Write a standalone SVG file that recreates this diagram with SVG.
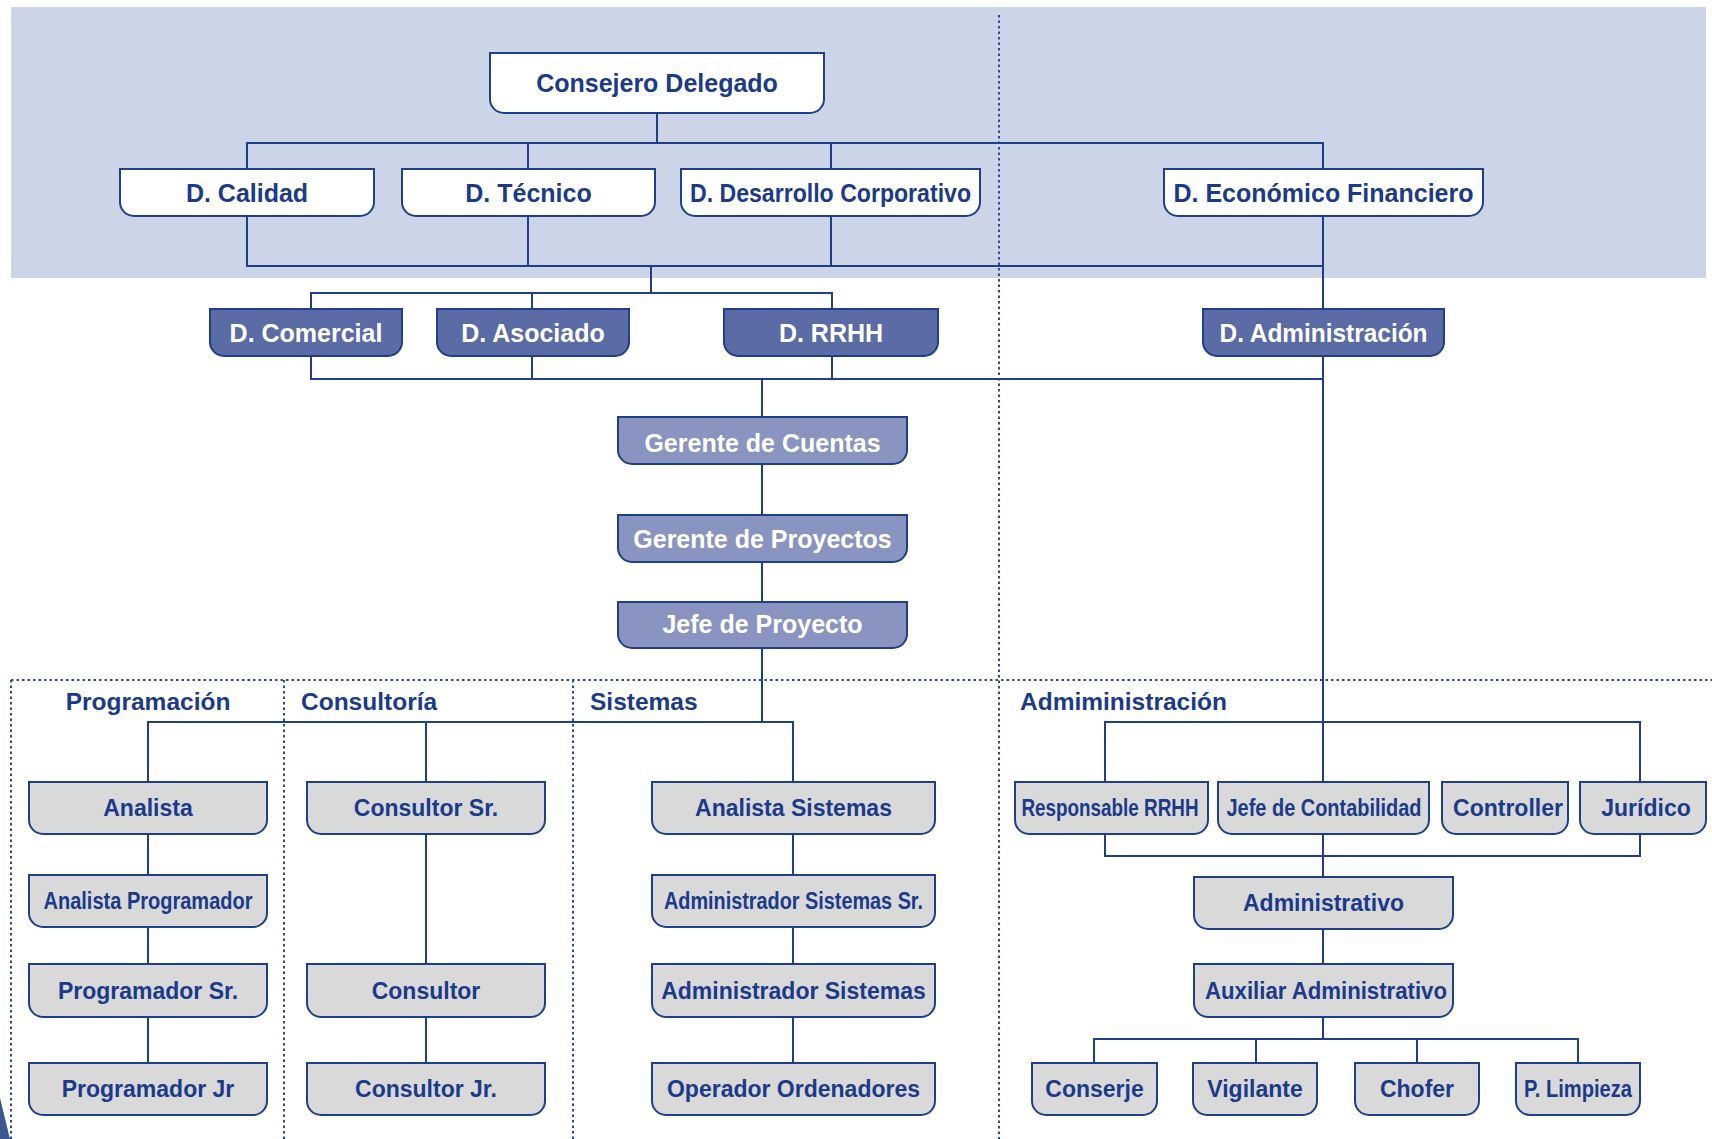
<svg xmlns="http://www.w3.org/2000/svg" width="1712" height="1139" viewBox="0 0 1712 1139">
<style>
.bx{stroke:#1f3f8c;stroke-width:2}
.w{fill:#ffffff}
.d{fill:#5b6ba6}
.l{fill:#8a94c0}
.g{fill:#d9d9d9}
.t{font-family:"Liberation Sans",Arial,Helvetica,sans-serif;font-weight:bold;text-anchor:middle}
.tn{fill:#1b3a8a;font-size:25px}
.tw{fill:#ffffff;font-size:25px}
.ts{fill:#1b3a8a;font-size:23px}
.sec{font-family:"Liberation Sans",Arial,Helvetica,sans-serif;font-weight:bold;font-size:24.5px;fill:#1b3a8a}
.ln{fill:none;stroke:#1f3f8c;stroke-width:2}
.dot{fill:none;stroke:#2a4a94;stroke-width:2;stroke-dasharray:2.5 3}
</style>
<rect x="11" y="7" width="1695" height="271" fill="#cbd5e7"/>
<g id="dotted">
<path class="dot" d="M999 15V1139M11 680H1712M11 680V1139M284 680V1139M573 680V1139"/>
</g>
<polygon points="0,1098 10,1139 0,1139" fill="#3d5890"/>
<g id="sections">
<text class="sec" x="148" y="710" text-anchor="middle">Programación</text>
<text class="sec" x="301" y="710">Consultoría</text>
<text class="sec" x="590" y="710">Sistemas</text>
<text class="sec" x="1020" y="710">Admiministración</text>
</g>
<g id="connectors">
<path class="ln" d="M657 113V143M247 169V143H1323V169M528 143V169M831 143V169"/>
<path class="ln" d="M247 216V266H1323M528 216V266M831 216V266M1323 216V782"/>
<path class="ln" d="M651 266V293M311 309V293H832V309M532 293V309"/>
<path class="ln" d="M311 356V379H1323M532 356V379M832 356V379"/>
<path class="ln" d="M762 379V417M762 464V515M762 562V602M762 648V722"/>
<path class="ln" d="M148 782V722H793V782M426 722V782"/>
<path class="ln" d="M148 834V875M148 927V964M148 1017V1063"/>
<path class="ln" d="M426 834V964M426 1017V1063"/>
<path class="ln" d="M793 834V875M793 927V964M793 1017V1063"/>
<path class="ln" d="M1105 782V722H1640V782M1105 834V856H1640V834"/>
<path class="ln" d="M1323 834V877M1323 929V964M1323 1017V1039M1094 1063V1039H1578V1063M1256 1039V1063M1417 1039V1063"/>
</g>
<g id="consejero"><path class="bx w" d="M490 53H824V99A14 14 0 0 1 810 113H504A14 14 0 0 1 490 99Z"/><text class="t tn" x="657" y="92">Consejero Delegado</text></g>
<g id="calidad"><path class="bx w" d="M120 169H374V202A14 14 0 0 1 360 216H134A14 14 0 0 1 120 202Z"/><text class="t tn" x="247" y="202">D. Calidad</text></g>
<g id="tecnico"><path class="bx w" d="M402 169H655V202A14 14 0 0 1 641 216H416A14 14 0 0 1 402 202Z"/><text class="t tn" x="528.5" y="202">D. Técnico</text></g>
<g id="desarrollo"><path class="bx w" d="M681 169H980V202A14 14 0 0 1 966 216H695A14 14 0 0 1 681 202Z"/><text class="t tn" x="830.5" y="202" textLength="281" lengthAdjust="spacingAndGlyphs">D. Desarrollo Corporativo</text></g>
<g id="economico"><path class="bx w" d="M1164 169H1483V202A14 14 0 0 1 1469 216H1178A14 14 0 0 1 1164 202Z"/><text class="t tn" x="1323.5" y="202">D. Económico Financiero</text></g>
<g id="comercial"><path class="bx d" d="M210 309H402V342A14 14 0 0 1 388 356H224A14 14 0 0 1 210 342Z"/><text class="t tw" x="306" y="342">D. Comercial</text></g>
<g id="asociado"><path class="bx d" d="M437 309H629V342A14 14 0 0 1 615 356H451A14 14 0 0 1 437 342Z"/><text class="t tw" x="533" y="342">D. Asociado</text></g>
<g id="rrhh"><path class="bx d" d="M724 309H938V342A14 14 0 0 1 924 356H738A14 14 0 0 1 724 342Z"/><text class="t tw" x="831" y="342">D. RRHH</text></g>
<g id="dadministracion"><path class="bx d" d="M1203 309H1444V342A14 14 0 0 1 1430 356H1217A14 14 0 0 1 1203 342Z"/><text class="t tw" x="1323.5" y="342" textLength="208" lengthAdjust="spacingAndGlyphs">D. Administración</text></g>
<g id="gerentecuentas"><path class="bx l" d="M618 417H907V450A14 14 0 0 1 893 464H632A14 14 0 0 1 618 450Z"/><text class="t tw" x="762.5" y="452">Gerente de Cuentas</text></g>
<g id="gerenteproyectos"><path class="bx l" d="M618 515H907V548A14 14 0 0 1 893 562H632A14 14 0 0 1 618 548Z"/><text class="t tw" x="762.5" y="547.5">Gerente de Proyectos</text></g>
<g id="jefeproyecto"><path class="bx l" d="M618 602H907V634A14 14 0 0 1 893 648H632A14 14 0 0 1 618 634Z"/><text class="t tw" x="762.5" y="633">Jefe de Proyecto</text></g>
<g id="analista"><path class="bx g" d="M29 782H267V820A14 14 0 0 1 253 834H43A14 14 0 0 1 29 820Z"/><text class="t ts" x="148" y="816">Analista</text></g>
<g id="analistaprog"><path class="bx g" d="M29 875H267V913A14 14 0 0 1 253 927H43A14 14 0 0 1 29 913Z"/><text class="t ts" x="148" y="909" textLength="209" lengthAdjust="spacingAndGlyphs">Analista Programador</text></g>
<g id="progsr"><path class="bx g" d="M29 964H267V1003A14 14 0 0 1 253 1017H43A14 14 0 0 1 29 1003Z"/><text class="t ts" x="148" y="998.5">Programador Sr.</text></g>
<g id="progjr"><path class="bx g" d="M29 1063H267V1101A14 14 0 0 1 253 1115H43A14 14 0 0 1 29 1101Z"/><text class="t ts" x="148" y="1097">Programador Jr</text></g>
<g id="consultorsr"><path class="bx g" d="M307 782H545V820A14 14 0 0 1 531 834H321A14 14 0 0 1 307 820Z"/><text class="t ts" x="426" y="816">Consultor Sr.</text></g>
<g id="consultor"><path class="bx g" d="M307 964H545V1003A14 14 0 0 1 531 1017H321A14 14 0 0 1 307 1003Z"/><text class="t ts" x="426" y="998.5">Consultor</text></g>
<g id="consultorjr"><path class="bx g" d="M307 1063H545V1101A14 14 0 0 1 531 1115H321A14 14 0 0 1 307 1101Z"/><text class="t ts" x="426" y="1097">Consultor Jr.</text></g>
<g id="analistasist"><path class="bx g" d="M652 782H935V820A14 14 0 0 1 921 834H666A14 14 0 0 1 652 820Z"/><text class="t ts" x="793.5" y="816">Analista Sistemas</text></g>
<g id="adminsistsr"><path class="bx g" d="M652 875H935V913A14 14 0 0 1 921 927H666A14 14 0 0 1 652 913Z"/><text class="t ts" x="793.5" y="909" textLength="259" lengthAdjust="spacingAndGlyphs">Administrador Sistemas Sr.</text></g>
<g id="adminsist"><path class="bx g" d="M652 964H935V1003A14 14 0 0 1 921 1017H666A14 14 0 0 1 652 1003Z"/><text class="t ts" x="793.5" y="998.5">Administrador Sistemas</text></g>
<g id="operador"><path class="bx g" d="M652 1063H935V1101A14 14 0 0 1 921 1115H666A14 14 0 0 1 652 1101Z"/><text class="t ts" x="793.5" y="1097">Operador Ordenadores</text></g>
<g id="responsablerrhh"><path class="bx g" d="M1015 782H1208V820A14 14 0 0 1 1194 834H1029A14 14 0 0 1 1015 820Z"/><text class="t ts" x="1110" y="816" textLength="177" lengthAdjust="spacingAndGlyphs">Responsable RRHH</text></g>
<g id="jefecontabilidad"><path class="bx g" d="M1218 782H1429V820A14 14 0 0 1 1415 834H1232A14 14 0 0 1 1218 820Z"/><text class="t ts" x="1324" y="816" textLength="195" lengthAdjust="spacingAndGlyphs">Jefe de Contabilidad</text></g>
<g id="controller"><path class="bx g" d="M1442 782H1568V820A14 14 0 0 1 1554 834H1456A14 14 0 0 1 1442 820Z"/><text class="t ts" x="1508" y="816">Controller</text></g>
<g id="juridico"><path class="bx g" d="M1580 782H1706V820A14 14 0 0 1 1692 834H1594A14 14 0 0 1 1580 820Z"/><text class="t ts" x="1646" y="816">Jurídico</text></g>
<g id="administrativo"><path class="bx g" d="M1194 877H1453V915A14 14 0 0 1 1439 929H1208A14 14 0 0 1 1194 915Z"/><text class="t ts" x="1323.5" y="911">Administrativo</text></g>
<g id="auxiliar"><path class="bx g" d="M1194 964H1453V1003A14 14 0 0 1 1439 1017H1208A14 14 0 0 1 1194 1003Z"/><text class="t ts" x="1326" y="998.5" textLength="242" lengthAdjust="spacingAndGlyphs">Auxiliar Administrativo</text></g>
<g id="conserje"><path class="bx g" d="M1032 1063H1157V1101A14 14 0 0 1 1143 1115H1046A14 14 0 0 1 1032 1101Z"/><text class="t ts" x="1094.5" y="1097">Conserje</text></g>
<g id="vigilante"><path class="bx g" d="M1193 1063H1317V1101A14 14 0 0 1 1303 1115H1207A14 14 0 0 1 1193 1101Z"/><text class="t ts" x="1255" y="1097">Vigilante</text></g>
<g id="chofer"><path class="bx g" d="M1355 1063H1479V1101A14 14 0 0 1 1465 1115H1369A14 14 0 0 1 1355 1101Z"/><text class="t ts" x="1417" y="1097">Chofer</text></g>
<g id="limpieza"><path class="bx g" d="M1516 1063H1640V1101A14 14 0 0 1 1626 1115H1530A14 14 0 0 1 1516 1101Z"/><text class="t ts" x="1578" y="1097" textLength="108" lengthAdjust="spacingAndGlyphs">P. Limpieza</text></g>
</svg>
